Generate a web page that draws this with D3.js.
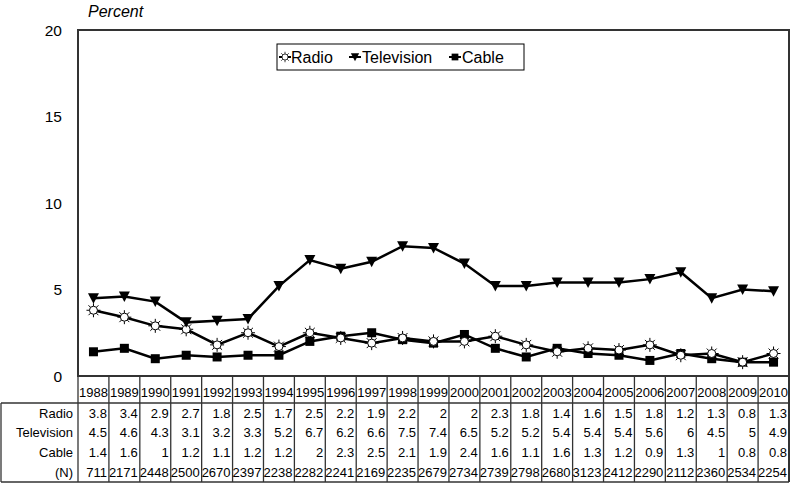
<!DOCTYPE html>
<html><head><meta charset="utf-8">
<script src="https://cdn.jsdelivr.net/npm/d3@7"></script>
<style>body{margin:0;background:#fff}svg{display:block;font-family:"Liberation Sans",Arial,sans-serif}</style>
</head><body><svg id="c" width="793" height="484"></svg>
<script>
const years = [1988,1989,1990,1991,1992,1993,1994,1995,1996,1997,1998,1999,2000,2001,2002,2003,2004,2005,2006,2007,2008,2009,2010];
const radio = [3.8,3.4,2.9,2.7,1.8,2.5,1.7,2.5,2.2,1.9,2.2,2,2,2.3,1.8,1.4,1.6,1.5,1.8,1.2,1.3,0.8,1.3];
const television = [4.5,4.6,4.3,3.1,3.2,3.3,5.2,6.7,6.2,6.6,7.5,7.4,6.5,5.2,5.2,5.4,5.4,5.4,5.6,6,4.5,5,4.9];
const cable = [1.4,1.6,1,1.2,1.1,1.2,1.2,2,2.3,2.5,2.1,1.9,2.4,1.6,1.1,1.6,1.3,1.2,0.9,1.3,1,0.8,0.8];
const nCounts = [711,2171,2448,2500,2670,2397,2238,2282,2241,2169,2235,2679,2734,2739,2798,2680,3123,2412,2290,2112,2360,2534,2254];
const yTicks = [0,5,10,15,20];
const seriesNames = ["Radio","Television","Cable"];

const svg = d3.select("#c");
const L=78, R=789, T=30, B=376;
const x = d3.scaleBand().domain(years).range([L,R]);
const y = d3.scaleLinear().domain([0,20]).range([B,T]);
const lineCol="#333";

// plot frame
svg.append("rect").attr("x",L).attr("y",T).attr("width",R-L).attr("height",B-T)
  .attr("fill","none").attr("stroke",lineCol).attr("stroke-width",2);

// y tick labels
svg.append("g").selectAll("text").data(yTicks).join("text")
  .attr("x",62).attr("y",d=>y(d)).attr("dy","0.36em").attr("text-anchor","end")
  .attr("font-size",15.5).text(d=>d);
svg.append("text").attr("x",88).attr("y",17).attr("font-size",16).attr("font-style","italic").text("Percent");

// markers
function drawMarker(g, type, cx, cy, s){
  s = s||1;
  if(type==="Radio"){
    const m=g.append("g").attr("transform",`translate(${cx},${cy}) scale(${s})`);
    for(let k=0;k<8;k++){
      const a=k*Math.PI/4;
      m.append("line").attr("x1",4*Math.cos(a)).attr("y1",4*Math.sin(a))
        .attr("x2",7*Math.cos(a)).attr("y2",7*Math.sin(a)).attr("stroke","#000").attr("stroke-width",1);
    }
    m.append("circle").attr("r",4).attr("fill","#fff").attr("stroke","#000").attr("stroke-width",1);
  } else if(type==="Television"){
    g.append("path").attr("d",`M${cx-5.5*s},${cy-5*s}L${cx+5.5*s},${cy-5*s}L${cx},${cy+5.5*s}Z`).attr("fill","#000");
  } else {
    g.append("rect").attr("x",cx-4.5*s).attr("y",cy-4.5*s).attr("width",9*s).attr("height",9*s).attr("fill","#000");
  }
}

const dataSets = {Radio:radio, Television:television, Cable:cable};
const line = d3.line().x((d,i)=>x(years[i])+x.bandwidth()/2).y(d=>y(d));
["Cable","Radio","Television"].forEach(name=>{
  const vals=dataSets[name];
  svg.append("path").attr("d",line(vals)).attr("fill","none").attr("stroke","#000").attr("stroke-width",2.5);
  const g=svg.append("g");
  vals.forEach((v,i)=>drawMarker(g,name,x(years[i])+x.bandwidth()/2,y(v)));
});

// legend
svg.append("rect").attr("x",277).attr("y",44).attr("width",247).attr("height",26)
  .attr("fill","#fff").attr("stroke","#000").attr("stroke-width",1);
const legX={Radio:[285,291],Television:[355,362],Cable:[455,462]};
seriesNames.forEach(n=>{
  const [mx,tx]=legX[n];
  svg.append("line").attr("x1",mx-6).attr("x2",mx+6).attr("y1",57).attr("y2",57).attr("stroke","#000").attr("stroke-width",2);
  drawMarker(svg.append("g"),n,mx,57,0.75);
  svg.append("text").attr("x",tx).attr("y",57).attr("dy","0.36em").attr("font-size",16).text(n);
});

// data table
const tl=lineCol, tw=1.3;
const rowTop=403, rowH=19.75, tBottom=482;
const tg=svg.append("g");
years.forEach((yr,i)=>{
  tg.append("line").attr("x1",x(yr)).attr("x2",x(yr)).attr("y1",B).attr("y2",tBottom).attr("stroke",tl).attr("stroke-width",tw);
  tg.append("text").attr("x",x(yr)+x.bandwidth()/2).attr("y",392).attr("dy","0.36em").attr("text-anchor","middle")
    .attr("font-size",13).text(yr);
});
tg.append("line").attr("x1",R).attr("x2",R).attr("y1",B).attr("y2",tBottom).attr("stroke",tl).attr("stroke-width",2);
tg.append("line").attr("x1",1).attr("x2",R).attr("y1",rowTop).attr("y2",rowTop).attr("stroke",tl).attr("stroke-width",tw);
tg.append("line").attr("x1",1).attr("x2",R).attr("y1",tBottom).attr("y2",tBottom).attr("stroke",tl).attr("stroke-width",tw);
tg.append("line").attr("x1",1).attr("x2",1).attr("y1",rowTop).attr("y2",tBottom).attr("stroke",tl).attr("stroke-width",tw);
const rows=[["Radio",radio],["Television",television],["Cable",cable],["(N)",nCounts]];
rows.forEach(([lab,vals],r)=>{
  const cy=rowTop+rowH*(r+0.5);
  tg.append("text").attr("x",73).attr("y",cy).attr("dy","0.36em").attr("text-anchor","end").attr("font-size",13).text(lab);
  vals.forEach((v,i)=>{
    tg.append("text").attr("x",x(years[i])+x.bandwidth()-2).attr("y",cy).attr("dy","0.36em").attr("text-anchor","end")
      .attr("font-size",13).text(v);
  });
});
</script></body></html>
